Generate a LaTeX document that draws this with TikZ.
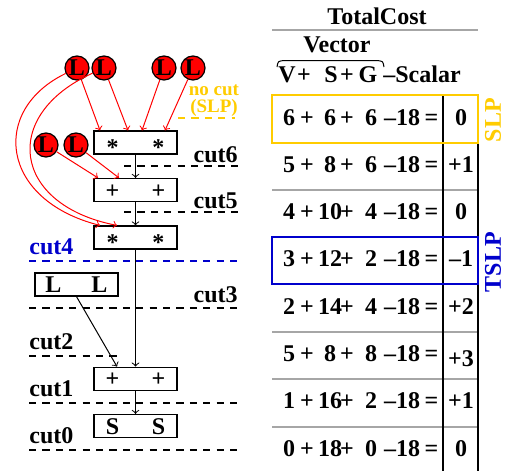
\documentclass[tikz,border=0pt]{standalone}
\usepackage{fontspec}
\setmainfont{Liberation Serif}
\usetikzlibrary{calc}
\definecolor{slpyellow}{RGB}{255,204,0}
\definecolor{tslpblue}{RGB}{0,0,204}
\newcommand\bigbf{\fontsize{12}{14}\selectfont\bfseries}
\newcommand\smallbf{\fontsize{9.5}{11}\selectfont\bfseries}
\newcommand\twoops[2]{\makebox[10pt]{#1}\hspace{13pt}\makebox[10pt]{#2}}
\newcommand\lowstar{\raisebox{-2.5pt}{*}}
\tikzset{
  opbox/.style={draw, line width=0.6pt, minimum width=41.5pt, minimum height=11.5pt,
    inner sep=0pt, text height=8pt, text depth=0pt, font=\bigbf},
  lnode/.style={circle, draw, line width=0.6pt, fill=red, inner sep=0pt,
    minimum size=12pt, font=\bigbf},
  ldedge/.style={red, line width=0.5pt, ->},
  opedge/.style={line width=0.5pt, ->},
  cutline/.style={dash pattern=on 3.6pt off 3.1pt, line width=1.1pt},
  cutlabel/.style={inner sep=0pt, font=\bigbf},
  num/.style={anchor=base, inner sep=0pt, font=\bigbf},
  rowsep/.style={gray!70, line width=0.6pt},
  colline/.style={line width=1pt}
}
\begin{document}
\begin{tikzpicture}[x=0.5pt, y=-0.5pt]
  \useasboundingbox (0,0) rectangle (509,471);

  \node (l1) [lnode] at (77,68) {L};
  \node (l2) [lnode] at (104,68) {L};
  \node (l3) [lnode] at (164,68) {L};
  \node (l4) [lnode] at (193,68) {L};
  \node (l5) [lnode] at (46,145) {L};
  \node (l6) [lnode] at (76,145) {L};
  \node (mul1) [opbox] at (135.5,142.5) {\twoops{\lowstar}{\lowstar}};
  \node (add1) [opbox] at (135.5,190) {\twoops{+}{+}};
  \node (mul2) [opbox] at (135.5,237.5) {\twoops{\lowstar}{\lowstar}};
  \node (ld) [opbox] at (76.5,284.5) {\twoops{L}{L}};
  \node (add2) [opbox] at (135.5,378.7) {\twoops{+}{+}};
  \node (st) [opbox] at (135.5,426) {\twoops{S}{S}};

  \draw[ldedge] (l1) -- ($(mul1.north)+(-35.5,0)$);
  \draw[ldedge] (l2) -- ($(mul1.north)+(-7.5,0)$);
  \draw[ldedge] (l3) -- ($(mul1.north)+(6.5,0)$);
  \draw[ldedge] (l4) -- ($(mul1.north)+(29.5,0)$);
  \draw[ldedge] (l5) -- ($(add1.north)+(-37.5,0)$);
  \draw[ldedge] (l6) -- ($(add1.north)+(-16.5,0)$);
  \draw[ldedge] (l1) .. controls (-10,110) and (0,200) .. ($(mul2.north)+(-35.5,0)$);
  \draw[ldedge] (l2) .. controls (0,115) and (12,205) .. ($(mul2.north)+(-18.5,0)$);
  \draw[opedge] (mul1) -- (add1);
  \draw[opedge] (add1) -- (mul2);
  \draw[opedge] (mul2) -- (add2);
  \draw[opedge] (ld.south) -- ($(add2.north)+(-18.5,0)$);
  \draw[opedge] (add2) -- (st);

  \draw[cutline, slpyellow] (178,118) -- (235,118);
  \draw[cutline] (124,166) -- (242,166);
  \draw[cutline] (124,212) -- (242,212);
  \draw[cutline, tslpblue] (29,261) -- (237,261);
  \draw[cutline] (29,308) -- (237,308);
  \draw[cutline] (29,356) -- (120,356);
  \draw[cutline] (29,403) -- (237,403);
  \draw[cutline] (29,450) -- (237,450);
  \node (nocut) [num, text=slpyellow, font=\smallbf] at (214,95) {no cut};
  \node (nocutslp) [num, text=slpyellow, font=\smallbf] at (214,112) {(SLP)};
  \node (cut6) [cutlabel, anchor=base east] at (238,162) {cut6};
  \node (cut5) [cutlabel, anchor=base east] at (238,208) {cut5};
  \node (cut4) [cutlabel, anchor=base west, text=tslpblue] at (29,254) {cut4};
  \node (cut3) [cutlabel, anchor=base east] at (238,302) {cut3};
  \node (cut2) [cutlabel, anchor=base west] at (29,349) {cut2};
  \node (cut1) [cutlabel, anchor=base west] at (29,396) {cut1};
  \node (cut0) [cutlabel, anchor=base west] at (29,443) {cut0};

  \node (total) [num] at (377,25) {TotalCost};
  \draw[rowsep] (272,30) -- (478,30);
  \node (vector) [num] at (337,53) {Vector};
  \draw[line width=0.5pt] (277,67) .. controls (278,61) .. (285,60.5) -- (376,60.5)
    .. controls (383,61) .. (384,67);
  \node (hv) [num] at (287,83) {V};
  \node (hp1) [num] at (304,83) {+};
  \node (hs) [num] at (331,83) {S};
  \node (hp2) [num] at (347,83) {+};
  \node (hg) [num] at (368,83) {G};
  \node (hscalar) [num, anchor=base west] at (383,83) {–Scalar};

  \foreach \y in {143,190,237,284,332,379,427}
    \draw[rowsep] (272,\y) -- (478,\y);
  \draw[colline] (443,95) -- (443,471);
  \draw[colline] (478,95) -- (478,471);
  \foreach \n/\a/\b/\c/\r in {1/6/6/6/0, 2/5/8/6/+1, 3/4/10/4/0, 4/3/12/2/–1,
      5/2/14/4/+2, 6/5/8/8/{\raisebox{-2.5pt}{+3}}, 7/1/16/2/+1, 8/0/18/0/0} {
    \pgfmathsetmacro\yb{125+47.3*(\n-1)}
    \node (a\n) [num] at (289,\yb) {\a};
    \node (p\n) [num] at (307,\yb) {+};
    \node (b\n) [num] at (330,\yb) {\b};
    \node (q\n) [num] at (347,\yb) {+};
    \node (c\n) [num] at (371,\yb) {\c};
    \node (s\n) [num] at (402,\yb) {–18};
    \node (e\n) [num] at (431.5,\yb) {=};
    \node (r\n) [num] at (461,\yb) {\r};
  }
  \draw[line width=1pt, slpyellow] (272,95) rectangle (478,143);
  \draw[line width=1pt, tslpblue] (272,237) rectangle (478,284);
  \node (slp) [inner sep=0pt, rotate=90, text=slpyellow, font=\bigbf] at (493,120) {SLP};
  \node (tslp) [inner sep=0pt, rotate=90, text=tslpblue, font=\bigbf] at (493,262) {TSLP};
\end{tikzpicture}
\end{document}
